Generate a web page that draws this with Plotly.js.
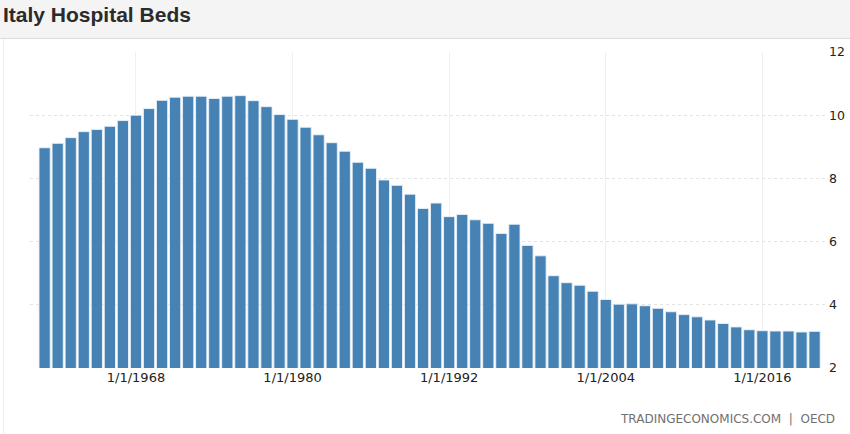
<!DOCTYPE html>
<html>
<head>
<meta charset="utf-8">
<script src="https://cdn.plot.ly/plotly-3.0.1.min.js"></script>
<style>
  html, body { margin: 0; padding: 0; background: #ffffff; }
  #chart { width: 850px; height: 434px; }
</style>
</head>
<body>
<div id="chart"></div>
<script>
// ---- data ----
const years = [
  1961, 1962, 1963, 1964, 1965, 1966, 1967, 1968, 1969, 1970,
  1971, 1972, 1973, 1974, 1975, 1976, 1977, 1978, 1979, 1980,
  1981, 1982, 1983, 1984, 1985, 1986, 1987, 1988, 1989, 1990,
  1991, 1992, 1993, 1994, 1995, 1996, 1997, 1998, 1999, 2000,
  2001, 2002, 2003, 2004, 2005, 2006, 2007, 2008, 2009, 2010,
  2011, 2012, 2013, 2014, 2015, 2016, 2017, 2018, 2019, 2020
];
const hospitalBeds = [
  8.97, 9.11, 9.29, 9.48, 9.55, 9.65, 9.83, 10.00, 10.21, 10.47,
  10.57, 10.60, 10.60, 10.53, 10.60, 10.62, 10.46, 10.27, 10.02, 9.87,
  9.62, 9.38, 9.13, 8.86, 8.51, 8.32, 7.95, 7.78, 7.50, 7.05,
  7.22, 6.79, 6.86, 6.69, 6.58, 6.26, 6.55, 5.88, 5.55, 4.92,
  4.70, 4.62, 4.43, 4.17, 4.02, 4.03, 3.97, 3.89, 3.78, 3.69,
  3.62, 3.52, 3.41, 3.30, 3.21, 3.18, 3.17, 3.17, 3.14, 3.16
];
const xTickVals = [1968, 1980, 1992, 2004, 2016];
const xTickText = ["1/1/1968", "1/1/1980", "1/1/1992", "1/1/2004", "1/1/2016"];
const yTickVals = [2, 4, 6, 8, 10, 12];
const titleText = "Italy Hospital Beds";
const sourceText = "TRADINGECONOMICS.COM  |  OECD";

// ---- layout geometry ----
const W = 850, H = 434;
const M = { l: 30, r: 22, t: 52, b: 66 };
const pw = W - M.l - M.r, ph = H - M.t - M.b;
const px = x => (x - M.l) / pw;          // pixel -> paper x
const py = y => (H - M.b - y) / ph;      // pixel -> paper y

const trace = {
  type: "bar",
  x: years,
  y: hospitalBeds,
  marker: {
    color: "rgb(70,130,180)",
    line: { color: "rgba(235,242,250,0.9)", width: 1 }
  },
  hoverinfo: "x+y"
};

const layout = {
  width: W, height: H,
  margin: M,
  paper_bgcolor: "#ffffff",
  plot_bgcolor: "#ffffff",
  showlegend: false,
  bargap: 0.14,
  title: {
    text: "<b>" + titleText + "</b>",
    x: 3 / W, xanchor: "left", xref: "container",
    y: 1 - 15 / H, yanchor: "middle", yref: "container",
    font: { family: "Liberation Sans, Arial, sans-serif", size: 21, color: "#2b2b2b" }
  },
  xaxis: {
    range: [1959.88, 2021.03],
    tickvals: xTickVals,
    ticktext: xTickText,
    showgrid: true,
    gridcolor: "#f0f0f0",
    gridwidth: 1,
    zeroline: false,
    showline: false,
    ticks: "",
    tickfont: { family: "DejaVu Sans, sans-serif", size: 13, color: "#222222" },
    fixedrange: true
  },
  yaxis: {
    side: "right",
    range: [2, 12],
    tickvals: yTickVals,
    showgrid: true,
    gridcolor: "#e3e3e3",
    gridwidth: 1,
    griddash: "dot",
    zeroline: false,
    showline: false,
    ticks: "",
    tickfont: { family: "DejaVu Sans, sans-serif", size: 12.5, color: "#222222" },
    fixedrange: true
  },
  shapes: [
    // header band
    { type: "rect", xref: "paper", yref: "paper", layer: "below",
      x0: px(0), x1: px(W), y0: py(38), y1: py(0),
      fillcolor: "#f4f4f4", line: { width: 0 } },
    // header bottom border
    { type: "line", xref: "paper", yref: "paper",
      x0: px(0), x1: px(W), y0: py(38.5), y1: py(38.5),
      line: { color: "#dcdcdc", width: 1 } },
    // left panel border
    { type: "line", xref: "paper", yref: "paper",
      x0: px(3.5), x1: px(3.5), y0: py(39), y1: py(H),
      line: { color: "#eeeeee", width: 1 } }
  ],
  annotations: [
    { text: sourceText, xref: "paper", yref: "paper",
      x: px(837), y: py(419), xanchor: "right", yanchor: "middle",
      showarrow: false,
      font: { family: "DejaVu Sans, sans-serif", size: 12, color: "#707070" } }
  ]
};

Plotly.newPlot("chart", [trace], layout, { displayModeBar: false, staticPlot: true });
</script>
</body>
</html>
